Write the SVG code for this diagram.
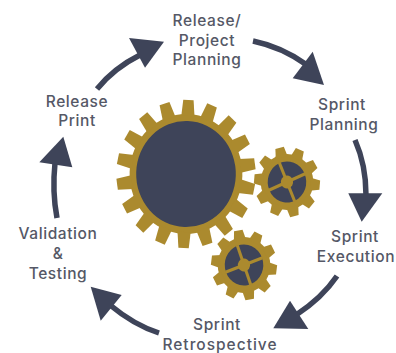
<svg xmlns="http://www.w3.org/2000/svg" width="396" height="353" viewBox="0 0 396 353">
<style>
text{font-family:"Inter","Open Sans","Liberation Sans",sans-serif;font-size:15.5px;font-weight:500;fill:#555866;text-anchor:middle;letter-spacing:.6px}
.gold{fill:#ab8a2e}
.dark{fill:#3e4459}
.line{fill:none;stroke:#3e4459;stroke-width:5.5}
</style>
<defs>
<polygon id="bt" class="gold" points="-7,-58 -5.5,-74 5.5,-74 7,-58"/>
<polygon id="st" class="gold" points="-6.5,-25 -4.6,-35 4.6,-35 6.5,-25"/>
<g id="smallgear">
<circle class="gold" r="28"/>
<use href="#st"/><use href="#st" transform="rotate(36)"/><use href="#st" transform="rotate(72)"/><use href="#st" transform="rotate(108)"/><use href="#st" transform="rotate(144)"/><use href="#st" transform="rotate(180)"/><use href="#st" transform="rotate(216)"/><use href="#st" transform="rotate(252)"/><use href="#st" transform="rotate(288)"/><use href="#st" transform="rotate(324)"/>
<circle class="dark" r="20.5"/>
<rect class="gold" x="-1.6" y="-21" width="3.2" height="42" transform="rotate(-10)"/>
<rect class="gold" x="-21" y="-1.6" width="42" height="3.2" transform="rotate(-10)"/>
<circle class="gold" r="6.5"/>
</g>
</defs>
<rect width="396" height="353" fill="#fff"/>
<g id="gear-large" transform="translate(186 174) scale(.94 1) rotate(2)">
<circle class="gold" r="60"/>
<use href="#bt"/><use href="#bt" transform="rotate(20)"/><use href="#bt" transform="rotate(40)"/><use href="#bt" transform="rotate(60)"/><use href="#bt" transform="rotate(80)"/><use href="#bt" transform="rotate(100)"/><use href="#bt" transform="rotate(120)"/><use href="#bt" transform="rotate(140)"/><use href="#bt" transform="rotate(160)"/><use href="#bt" transform="rotate(180)"/><use href="#bt" transform="rotate(200)"/><use href="#bt" transform="rotate(220)"/><use href="#bt" transform="rotate(240)"/><use href="#bt" transform="rotate(260)"/><use href="#bt" transform="rotate(280)"/><use href="#bt" transform="rotate(300)"/><use href="#bt" transform="rotate(320)"/><use href="#bt" transform="rotate(340)"/>
<circle class="dark" r="53"/>
</g>
<g id="gear-small-1"><use href="#smallgear" transform="translate(287 182) scale(.94 1) rotate(-13)"/></g>
<g id="gear-small-2"><use href="#smallgear" transform="translate(244 265) scale(.94 1) rotate(-10)"/></g>
<g id="connectors">
<path class="line" d="M253 41Q282 47 307 65"/>
<polygon class="dark" points="312.7,51.7 324,85 292.7,78.3"/>
<path class="line" d="M355 140Q366 165 366 195"/>
<polygon class="dark" points="348.3,193.3 382.3,193.3 361.7,221.7"/>
<path class="line" d="M337 276Q322 298 296 315"/>
<polygon class="dark" points="290,300.7 308.3,329 273.3,328.3"/>
<path class="line" d="M159 333Q134 325 110 305"/>
<polygon class="dark" points="90.7,286.7 121.7,295 100.7,320.7"/>
<path class="line" d="M57 218Q52 192 55 163"/>
<polygon class="dark" points="63.3,136.7 72.3,167.3 39.3,162.3"/>
<path class="line" d="M97 89Q114 68 140 55"/>
<polygon class="dark" points="129,38 164,41.7 145,67.7"/>
</g>
<g id="node-release-project-planning"><text x="207" y="26">Release/</text><text x="207" y="46">Project</text><text x="207" y="65">Planning</text></g>
<g id="node-sprint-planning"><text x="342" y="110">Sprint</text><text x="344" y="130">Planning</text></g>
<g id="node-sprint-execution"><text x="355" y="242">Sprint</text><text x="356" y="262">Execution</text></g>
<g id="node-sprint-retrospective"><text x="217" y="330">Sprint</text><text x="220" y="349.5" style="letter-spacing:1px">Retrospective</text></g>
<g id="node-validation-testing"><text x="58" y="239">Validation</text><text x="58" y="259">&amp;</text><text x="58" y="279">Testing</text></g>
<g id="node-release-print"><text x="77" y="107">Release</text><text x="77" y="126">Print</text></g>
</svg>
